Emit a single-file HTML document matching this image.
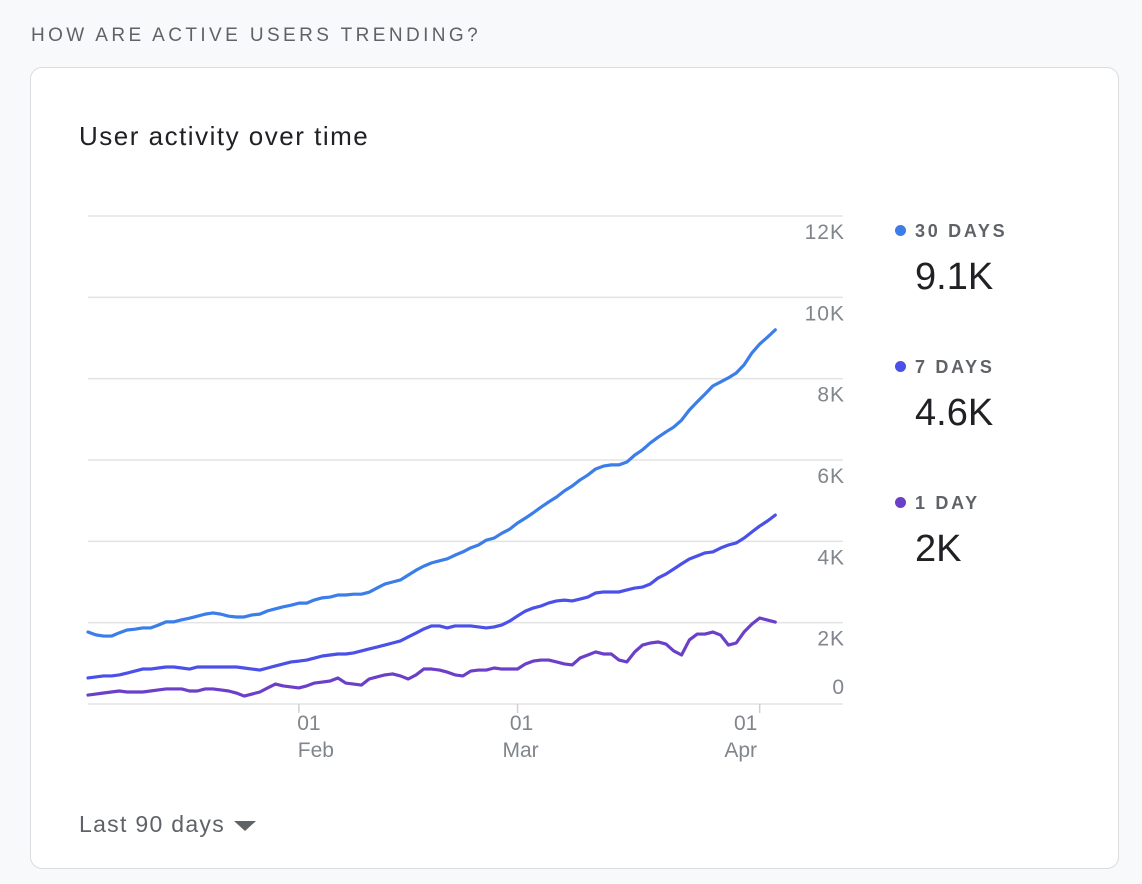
<!DOCTYPE html>
<html><head><meta charset="utf-8"><style>
body{margin:0;width:1142px;height:884px;background:#f8f9fa;font-family:"Liberation Sans",Arial,sans-serif;overflow:hidden;position:relative}
.hdr{position:absolute;left:31px;top:25px;font-size:19px;letter-spacing:3.4px;color:#5f6368}
.card{position:absolute;left:30px;top:67px;width:1087px;height:800px;background:#fff;border:1.5px solid #dadce0;border-radius:12px}
.t{position:absolute;left:79px;top:121px;font-size:26px;letter-spacing:1.5px;color:#202124}
.lg{position:absolute;left:895px;font-size:18px;letter-spacing:2.7px;color:#5f6368;font-weight:bold}
.lg i{display:inline-block;width:11px;height:11px;border-radius:50%;margin-right:9px;vertical-align:1px}
.lv{position:absolute;left:915px;font-size:38px;color:#202124}
.rng{position:absolute;left:79px;top:811px;font-size:23px;letter-spacing:1.3px;color:#5f6368}
.tri{position:absolute;left:234px;top:821px;width:0;height:0;border-left:11px solid transparent;border-right:11px solid transparent;border-top:10px solid #5f6368}
svg{position:absolute;left:0;top:0}
</style></head><body>
<div class="hdr">HOW ARE ACTIVE USERS TRENDING?</div>
<div class="card"></div>
<div class="t">User activity over time</div>
<div class="lg" style="top:221px"><i style="background:#3b7de9"></i>30 DAYS</div>
<div class="lv" style="top:256px">9.1K</div>
<div class="lg" style="top:357px"><i style="background:#4a50e8"></i>7 DAYS</div>
<div class="lv" style="top:392px">4.6K</div>
<div class="lg" style="top:493px"><i style="background:#6b3fc8"></i>1 DAY</div>
<div class="lv" style="top:528px">2K</div>
<div class="rng">Last 90 days</div>
<div class="tri"></div>
<svg id="c" width="1142" height="884"></svg>
<script>
const yTicks=[0,2000,4000,6000,8000,10000,12000];
const yTickLabels=["0","2K","4K","6K","8K","10K","12K"];
const xTickDays=[27,55,86];
const xTickDay=["01","01","01"];
const xTickMonth=["Feb","Mar","Apr"];
const s30=[1770,1700,1670,1670,1750,1820,1840,1870,1870,1940,2020,2020,2070,2110,2160,2210,2240,2210,2160,2140,2140,2190,2210,2290,2340,2390,2430,2480,2480,2560,2610,2630,2680,2680,2700,2700,2750,2850,2950,3000,3050,3170,3290,3390,3470,3520,3570,3660,3740,3840,3910,4030,4080,4200,4300,4450,4570,4700,4840,4970,5090,5240,5360,5510,5630,5780,5850,5880,5880,5950,6120,6250,6420,6560,6690,6810,6980,7230,7430,7620,7820,7920,8020,8140,8340,8630,8850,9020,9200];
const s7=[640,665,690,690,715,760,810,860,860,885,910,910,885,860,910,910,910,910,910,910,885,860,835,885,935,985,1035,1055,1080,1130,1180,1205,1230,1230,1255,1305,1355,1400,1450,1500,1550,1650,1745,1845,1920,1920,1870,1920,1920,1920,1895,1870,1895,1945,2040,2165,2285,2360,2410,2485,2535,2555,2535,2580,2630,2730,2755,2755,2755,2805,2850,2875,2950,3100,3195,3320,3445,3565,3640,3715,3740,3835,3910,3960,4080,4230,4375,4500,4645];
const s1=[220,245,270,295,320,295,295,295,320,345,370,370,370,320,320,370,370,345,320,270,195,245,295,395,490,445,420,395,445,515,540,565,640,515,490,465,615,665,715,740,690,615,715,860,860,835,785,715,690,810,835,835,885,860,860,860,985,1055,1080,1080,1035,985,960,1130,1205,1280,1230,1230,1080,1035,1280,1450,1500,1525,1475,1305,1205,1575,1720,1720,1770,1695,1450,1500,1770,1965,2115,2065,2015];
const NS="http://www.w3.org/2000/svg";
const svg=document.getElementById('c');
const X=i=>88+i*7.81;
const Y=v=>704-v*(488/12000);
const dayOff=[10,4,-14];
const monOff=[17,3,-19];
function mk(t,a){const e=document.createElementNS(NS,t);for(const k in a)e.setAttribute(k,a[k]);svg.appendChild(e);return e;}
yTicks.forEach((v,k)=>{
  const l=mk('line',{x1:88,x2:843,y1:Y(v),y2:Y(v),stroke:'#e3e3e3','stroke-width':1.5});
  
  
  const ty=v===0?Y(v)-10:Y(v)+23;
  const t=mk('text',{x:845,y:ty,'text-anchor':'end','font-size':21,'letter-spacing':1,fill:'#80868b','font-family':'Liberation Sans'});
  t.textContent=yTickLabels[k];
  
  
});
xTickDays.forEach((d,k)=>{
  const x=X(d);
  const l=mk('line',{x1:x,x2:x,y1:704,y2:713,stroke:'#d0d0d0','stroke-width':1.5});
  
  
  const t1=mk('text',{x:x+dayOff[k],y:730,'text-anchor':'middle','font-size':21,fill:'#80868b','font-family':'Liberation Sans'});
  t1.textContent=xTickDay[k];
  
  
  const t2=mk('text',{x:x+monOff[k],y:757,'text-anchor':'middle','font-size':21,fill:'#80868b','font-family':'Liberation Sans'});
  t2.textContent=xTickMonth[k];
  
  
});
[[s1,'#6b3fc8','line-1-day'],[s7,'#4a50e8','line-7-days'],[s30,'#3b7de9','line-30-days']].forEach(([s,c,n])=>{
  const p=mk('polyline',{points:s.map((v,i)=>X(i)+','+Y(v)).join(' '),fill:'none',stroke:c,'stroke-width':3.2,'stroke-linejoin':'round','stroke-linecap':'round'});
  
  
});
</script>
</body></html>
